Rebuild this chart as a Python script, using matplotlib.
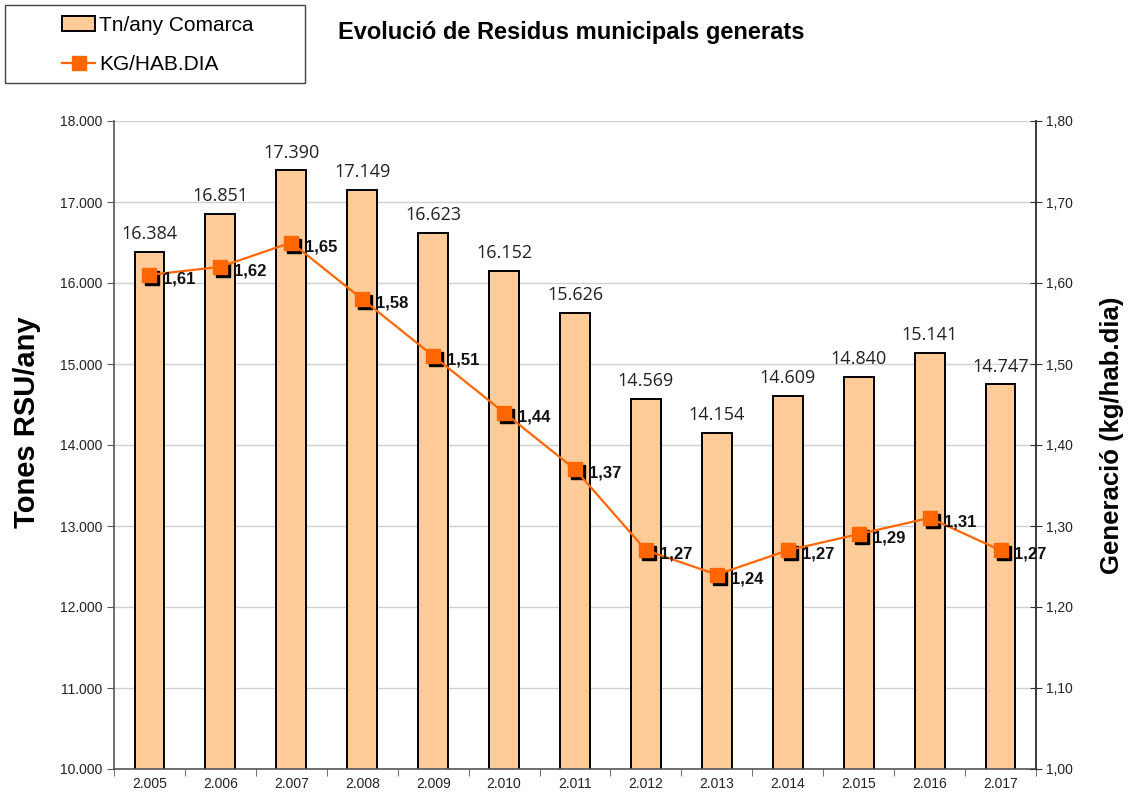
import matplotlib.pyplot as plt
import matplotlib.transforms as mtransforms
from matplotlib.patches import Rectangle
import numpy as np

plt.rcParams['font.family'] = ['Liberation Sans', 'DejaVu Sans']

years = ["2.005", "2.006", "2.007", "2.008", "2.009", "2.010", "2.011",
         "2.012", "2.013", "2.014", "2.015", "2.016", "2.017"]
tones = [16384, 16851, 17390, 17149, 16623, 16152, 15626,
         14569, 14154, 14609, 14840, 15141, 14747]
kg_hab_dia = [1.61, 1.62, 1.65, 1.58, 1.51, 1.44, 1.37,
              1.27, 1.24, 1.27, 1.29, 1.31, 1.27]


def fmt_thousands(v):
    return f"{int(v):,}".replace(",", ".")


W, H = 1131, 794
fig = plt.figure(figsize=(W / 100, H / 100), dpi=100)
ax = fig.add_axes([114 / W, 1 - 769 / H, (1036 - 114) / W, (769 - 121) / H])
x = np.arange(len(years))

bars = ax.bar(x, tones, width=0.42, color="#FFCC99", edgecolor="black",
              linewidth=1.4, zorder=2, label="Tn/any Comarca")
for xi, v in zip(x, tones):
    ax.text(xi, v + 110, fmt_thousands(v), ha="center", va="bottom",
            fontsize=13, color="#222222", family="Open Sans")

ax.set_ylim(10000, 18000)
ax.set_xlim(-0.5, len(years) - 0.5)
ax.set_yticks(np.arange(10000, 18001, 1000))
ax.set_yticklabels([fmt_thousands(v) for v in np.arange(10000, 18001, 1000)])
ax.yaxis.grid(True, color="#d0d0d0", linewidth=1)
ax.set_axisbelow(True)
ax.set_xticks(x)
ax.set_xticklabels(years)
ax.set_xticks(np.arange(-0.5, len(years)), minor=True)
ax.tick_params(axis="x", which="major", length=0, labelsize=10, pad=6, labelcolor="#222222")
ax.tick_params(axis="x", which="minor", length=5, color="#555555")
ax.tick_params(axis="y", labelsize=10, length=5, color="#555555", labelcolor="#222222")
ax.spines["top"].set_visible(False)
for s in ["left", "bottom", "right"]:
    ax.spines[s].set_color("#555555")
    ax.spines[s].set_linewidth(1.2)
ax.set_ylabel("Tones RSU/any", fontsize=21, fontweight="bold")
ax.yaxis.set_label_coords(-0.079, 0.535)

ax2 = ax.twinx()
ax2.set_ylim(1.0, 1.8)
rt = np.round(np.arange(1.0, 1.801, 0.1), 2)
ax2.set_yticks(rt)
ax2.set_yticklabels([f"{v:.2f}".replace(".", ",") for v in rt])
ax2.tick_params(axis="y", labelsize=10, length=8, direction="inout",
                color="#333333", labelcolor="#222222")
ax2.spines["top"].set_visible(False)
ax2.spines["left"].set_visible(False)
ax2.spines["bottom"].set_visible(False)
ax2.spines["right"].set_color("#333333")
ax2.spines["right"].set_linewidth(1.2)
ax2.set_ylabel("Generació (kg/hab.dia)", fontsize=18.5, fontweight="bold")
ax2.yaxis.set_label_coords(1.069, 0.515)

shadow = ax2.transData + mtransforms.ScaledTranslation(3 / 100, -3 / 100, fig.dpi_scale_trans)
ax2.plot(x, kg_hab_dia, linestyle="none", marker="s", markersize=9.5,
         color="black", transform=shadow, zorder=3)
line, = ax2.plot(x, kg_hab_dia, color="#FF6600", linewidth=1.6, marker="s",
                 markersize=9.5, zorder=4, label="KG/HAB.DIA")
for xi, v in zip(x, kg_hab_dia):
    ax2.annotate(f"{v:.2f}".replace(".", ","), (xi, v), xytext=(10, -3),
                 textcoords="offset points", ha="left", va="center",
                 fontsize=12, fontweight="bold", color="#111111", zorder=5)

fig.text(571 / W, 1 - 33 / H, "Evolució de Residus municipals generats",
         ha="center", va="center", fontsize=17, fontweight="bold")

# legend frame drawn separately so the entries sit centred in a wide box
fig.patches.append(Rectangle((5 / W, 1 - 83 / H), 300 / W, 78 / H,
                             transform=fig.transFigure, fill=False,
                             edgecolor="#444444", linewidth=1.0))
fig.legend([bars, line], ["Tn/any Comarca", "KG/HAB.DIA"],
           loc="center", bbox_to_anchor=(158 / W, 1 - 45 / H),
           fontsize=15, frameon=False, handlelength=1.6,
           labelspacing=1.0, handletextpad=0.2)

fig.savefig("out.png", dpi=100)
